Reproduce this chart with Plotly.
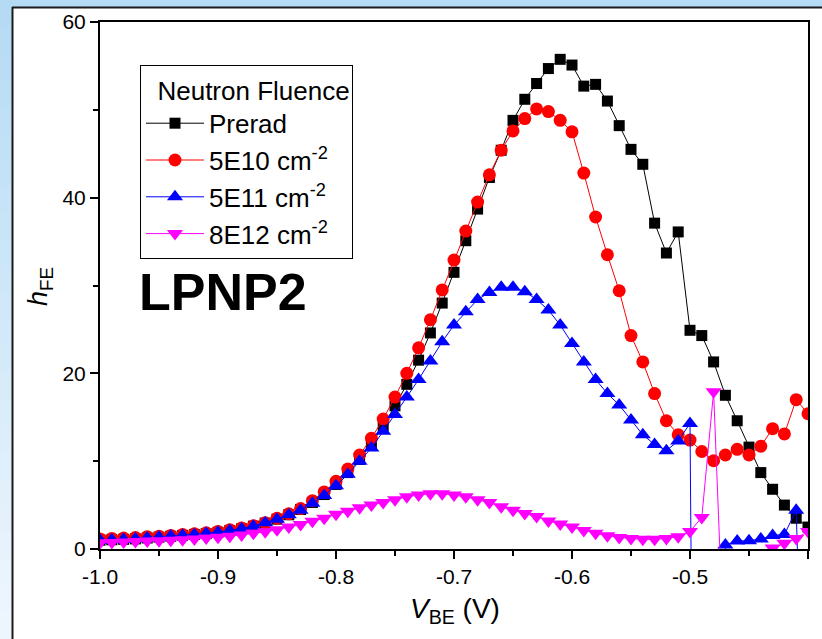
import plotly.graph_objects as go

# ---------------- data ----------------
vbe = [-1.00, -0.99, -0.98, -0.97, -0.96, -0.95, -0.94, -0.93, -0.92, -0.91,
       -0.90, -0.89, -0.88, -0.87, -0.86, -0.85, -0.84, -0.83, -0.82, -0.81,
       -0.80, -0.79, -0.78, -0.77, -0.76, -0.75, -0.74, -0.73, -0.72, -0.71,
       -0.70, -0.69, -0.68, -0.67, -0.66, -0.65, -0.64, -0.63, -0.62, -0.61,
       -0.60, -0.59, -0.58, -0.57, -0.56, -0.55, -0.54, -0.53, -0.52, -0.51,
       -0.50, -0.49, -0.48, -0.47, -0.46, -0.45, -0.44, -0.43, -0.42, -0.41,
       -0.40]

prerad = [1.0, 1.05, 1.1, 1.15, 1.25, 1.35, 1.45, 1.55, 1.65, 1.75,
          1.9, 2.1, 2.3, 2.6, 2.95, 3.4, 3.9, 4.5, 5.3, 6.2,
          7.35, 8.7, 10.2, 12.0, 14.0, 16.3, 18.75, 21.5, 24.6, 28.0,
          31.5, 35.1, 38.7, 42.3, 45.4, 48.8, 51.2, 53.0, 54.7, 55.75,
          55.1, 52.7, 52.9, 51.0, 48.2, 45.5, 43.8, 37.1, 33.7, 36.1,
          24.9, 24.3, 21.3, 17.5, 14.6, 11.6, 8.7, 6.8, 5.0, 3.5,
          2.5]

f5e10 = [1.15, 1.2, 1.25, 1.3, 1.4, 1.45, 1.55, 1.65, 1.75, 1.85,
         2.0, 2.2, 2.4, 2.65, 3.0, 3.5, 4.0, 4.6, 5.5, 6.5,
         7.7, 9.1, 10.7, 12.6, 14.8, 17.3, 20.0, 22.9, 26.1, 29.5,
         32.9, 36.2, 39.5, 42.6, 45.4, 47.6, 49.0, 50.1, 49.8, 48.8,
         47.5, 42.8, 37.8, 33.5, 29.4, 24.3, 21.3, 17.7, 14.6, 13.0,
         12.4, 11.1, 10.05, 10.7, 11.35, 10.7, 11.7, 13.7, 13.1, 17.0,
         15.4]

f5e11 = [1.0, 1.05, 1.1, 1.18, 1.29, 1.37, 1.48, 1.56, 1.65, 1.78,
         1.9, 2.1, 2.3, 2.6, 3.0, 3.4, 3.9, 4.4, 5.2, 6.1,
         7.2, 8.5, 10.0, 11.5, 13.4, 15.3, 17.3, 19.3, 21.4, 23.6,
         25.5, 27.0, 28.4, 29.2, 29.8, 29.8, 29.3, 28.4, 27.2, 25.5,
         23.4, 21.3, 19.3, 17.7, 16.4, 14.7, 13.0, 11.9, 11.2, 12.3,
         14.3, -150.0, -100.0, 0.45, 0.9, 0.95, 1.15, 1.55, 1.65, 4.4,
         -40.0]

f8e12 = [0.7, 0.75, 0.8, 0.85, 0.9, 0.95, 1.0, 1.05, 1.15, 1.25,
         1.35, 1.45, 1.6, 1.8, 1.95, 2.2, 2.5, 2.8, 3.15, 3.5,
         3.95, 4.3, 4.7, 5.0, 5.3, 5.6, 5.95, 6.15, 6.3, 6.3,
         6.15, 5.95, 5.6, 5.3, 4.8, 4.4, 4.05, 3.7, 3.2, 2.85,
         2.5, 2.1, 1.8, 1.5, 1.3, 1.2, 1.1, 1.1, 1.2, 1.4,
         2.0, 3.6, 17.9, -16.0, -3.0, -2.0, -1.5, 0.1, 0.65, 1.2,
         2.0]

series_names = ["Prerad", "5E10 cm<sup>-2</sup>", "5E11 cm<sup>-2</sup>", "8E12 cm<sup>-2</sup>"]
x_ticks = [-1.0, -0.9, -0.8, -0.7, -0.6, -0.5, -0.4]
x_ticklabels = ["-1.0", "-0.9", "-0.8", "-0.7", "-0.6", "-0.5", "-0.4"]
y_ticks = [0, 20, 40, 60]

# ---------------- layout geometry ----------------
W, H = 822, 639
L, R, T, B = 100, 14, 22, 90
PW = W - L - R
PH = H - T - B


def px(x):
    return (x - L) / PW


def py(y):
    return (H - B - y) / PH


FONT = "Liberation Sans, Arial, sans-serif"

fig = go.Figure()

styles = [
    dict(color="#000000", symbol="square", size=11),
    dict(color="#ff0000", symbol="circle", size=13),
    dict(color="#0000ff", symbol="triangle-up", size=14),
    dict(color="#ff00ff", symbol="triangle-down", size=14),
]
for name, ys, st in zip(series_names, [prerad, f5e10, f5e11, f8e12], styles):
    fig.add_trace(go.Scatter(
        x=vbe, y=ys, name=name, mode="lines+markers",
        line=dict(color=st["color"], width=1),
        marker=dict(color=st["color"], symbol=st["symbol"], size=st["size"],
                    line=dict(width=0)),
        legendgroup=name, cliponaxis=True,
    ))

# background: light-blue gradient + white panel
shapes = []
nb = 24
c0 = (181, 219, 244)
c1 = (238, 246, 253)
for i in range(nb):
    t = i / (nb - 1)
    c = tuple(int(round(c0[k] + (c1[k] - c0[k]) * t)) for k in range(3))
    y_top = H * i / nb
    y_bot = H * (i + 1) / nb + 1
    shapes.append(dict(type="rect", xref="paper", yref="paper",
                       x0=px(-5), x1=px(W + 5), y0=py(y_bot), y1=py(y_top),
                       fillcolor="rgb(%d,%d,%d)" % c, line=dict(width=0), layer="below"))
shapes.append(dict(type="rect", xref="paper", yref="paper",
                   x0=px(12), x1=px(W + 20), y0=py(H + 20), y1=py(7),
                   fillcolor="#ffffff", line=dict(width=0), layer="below"))
shapes.append(dict(type="line", xref="paper", yref="paper",
                   x0=px(12.5), x1=px(12.5), y0=py(H + 20), y1=py(7),
                   line=dict(color="#1a1a1a", width=2), layer="below"))
shapes.append(dict(type="line", xref="paper", yref="paper",
                   x0=px(12), x1=px(W + 20), y0=py(7.5), y1=py(7.5),
                   line=dict(color="#1a1a1a", width=2), layer="below"))

annotations = [
    dict(text="<b>LPNP2</b>", x=px(223), y=py(292), xref="paper", yref="paper",
         showarrow=False, font=dict(family=FONT, size=52, color="#000000"),
         xanchor="center", yanchor="middle"),
    dict(text="<i>V</i><sub>BE</sub> (V)", x=px(455), y=py(610), xref="paper", yref="paper",
         showarrow=False, font=dict(family=FONT, size=28, color="#000000"),
         xanchor="center", yanchor="middle"),
    dict(text="<i>h</i><sub>FE</sub>", x=px(40), y=py(287), xref="paper", yref="paper",
         showarrow=False, font=dict(family=FONT, size=27, color="#000000"),
         textangle=-90, xanchor="center", yanchor="middle"),
]

fig.update_layout(
    width=W, height=H,
    margin=dict(l=L, r=R, t=T, b=B, pad=0),
    paper_bgcolor="#cfe6f7",
    plot_bgcolor="rgba(0,0,0,0)",
    shapes=shapes,
    annotations=annotations,
    font=dict(family=FONT, color="#000000"),
    legend=dict(
        x=px(140), y=py(65), xanchor="left", yanchor="top",
        bgcolor="#ffffff", bordercolor="#000000", borderwidth=1,
        font=dict(family=FONT, size=26, color="#000000"),
        title=dict(text="  Neutron Fluence", font=dict(family=FONT, size=26)),
        tracegroupgap=0,
        itemsizing="trace",
        itemwidth=58,
    ),
    xaxis=dict(
        range=[-1.0, -0.4], tickvals=x_ticks, ticktext=x_ticklabels,
        ticks="outside", ticklen=8, tickwidth=1.5, tickcolor="#000000",
        minor=dict(dtick=0.05, ticks="outside", ticklen=5, tickwidth=1.5, tickcolor="#000000"),
        showline=True, linecolor="#000000", linewidth=2, mirror=True,
        showgrid=False, zeroline=False, automargin=False,
        tickfont=dict(family=FONT, size=21, color="#000000"),
    ),
    yaxis=dict(
        range=[0, 60], tickvals=y_ticks,
        ticks="outside", ticklen=8, tickwidth=1.5, tickcolor="#000000",
        minor=dict(dtick=10, ticks="outside", ticklen=5, tickwidth=1.5, tickcolor="#000000"),
        showline=True, linecolor="#000000", linewidth=2, mirror=True,
        showgrid=False, zeroline=False, automargin=False,
        tickfont=dict(family=FONT, size=21, color="#000000"),
    ),
)

fig.write_html("out.html")
